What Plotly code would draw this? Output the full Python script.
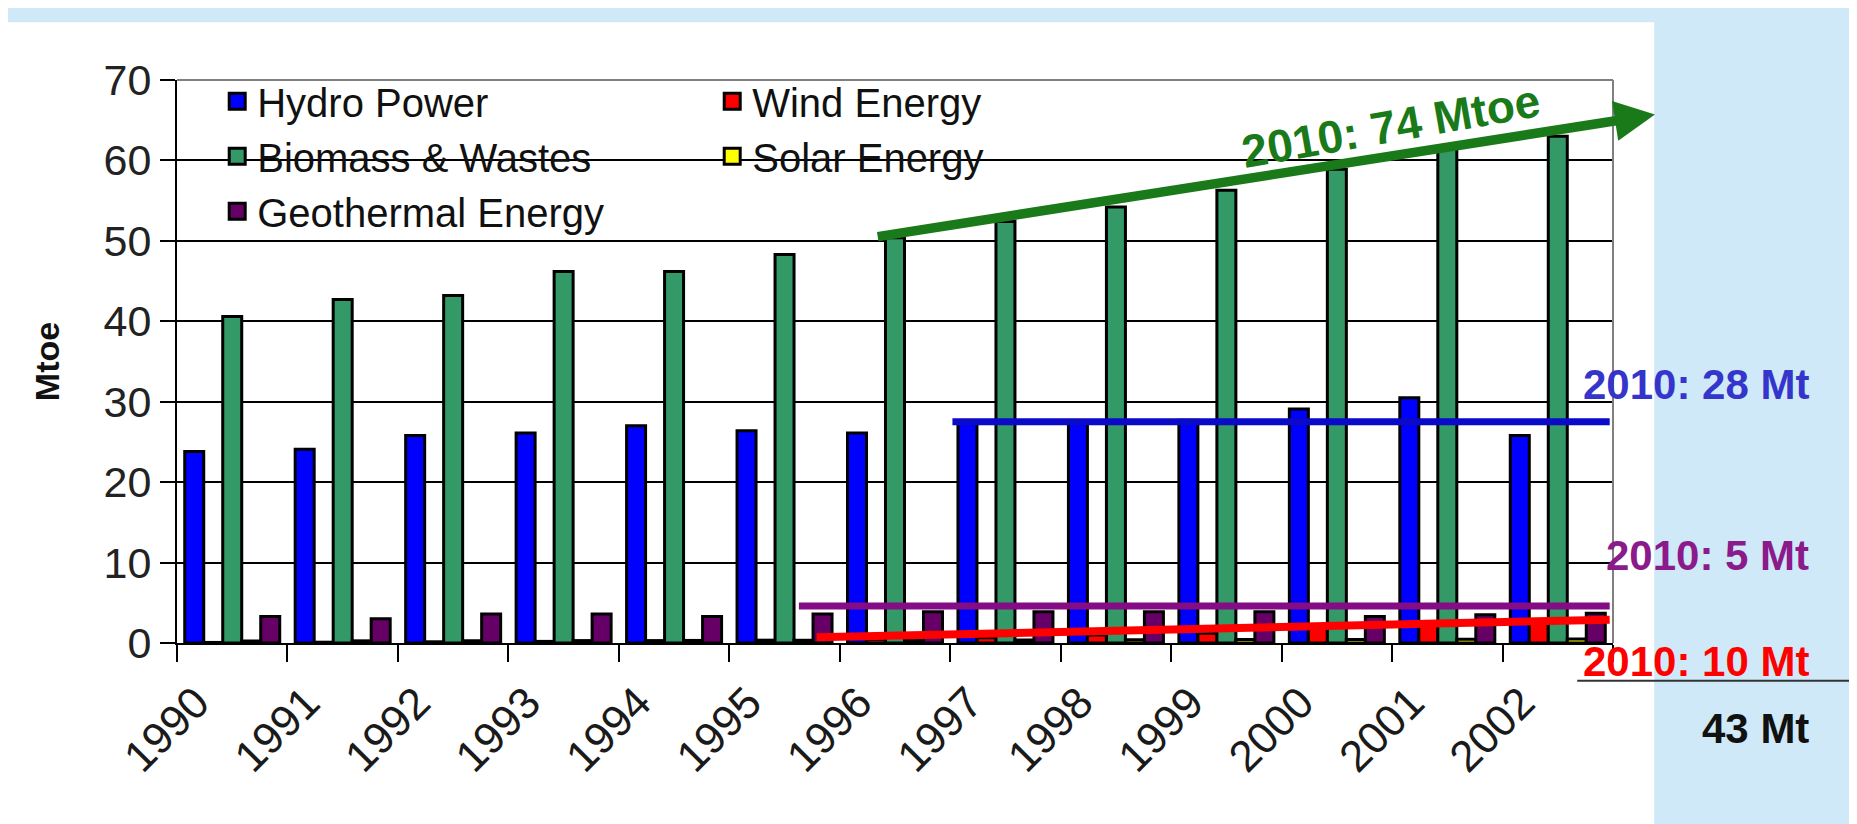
import plotly.graph_objects as go

years = ['1990', '1991', '1992', '1993', '1994', '1995', '1996',
         '1997', '1998', '1999', '2000', '2001', '2002']
hydro = [23.8, 24.1, 25.8, 26.1, 27.0, 26.4, 26.1, 27.6, 27.5, 27.7, 29.1, 30.5, 25.8]
wind = [0.07, 0.1, 0.15, 0.2, 0.3, 0.35, 0.45, 0.65, 1.0, 1.2, 1.9, 2.3, 2.9]
biomass = [40.6, 42.7, 43.2, 46.2, 46.2, 48.3, 50.4, 52.4, 54.2, 56.3, 58.9, 61.6, 63.0]
solar = [0.25, 0.27, 0.28, 0.3, 0.32, 0.34, 0.36, 0.38, 0.4, 0.42, 0.45, 0.48, 0.5]
geothermal = [3.3, 3.0, 3.6, 3.6, 3.3, 3.6, 3.9, 3.9, 3.9, 3.9, 3.3, 3.5, 3.7]

series = [
    ('Hydro Power', hydro, '#0000ff'),
    ('Wind Energy', wind, '#ff0000'),
    ('Biomass & Wastes', biomass, '#339966'),
    ('Solar Energy', solar, '#ffff00'),
    ('Geothermal Energy', geothermal, '#660066'),
]

# 2010 target levels drawn as lines (Mtoe)
hydro_target = 27.5
geo_target = 4.6
wind_start, wind_end = 0.7, 2.9
bio_start, bio_end = 50.5, 65.7

FONT = 'Arial, Liberation Sans, sans-serif'

W, H = 1857, 824
L, R, T, B = 169, 252, 72, 189
pw, ph = W - L - R, H - T - B
S = W / 1568.0  # helper scale for layout measurements


def px(p):
    return (p * S - L) / pw


def py(q):
    return (H - B - q * S) / ph


fig = go.Figure()
for name, vals, col in series:
    fig.add_trace(go.Bar(
        x=years, y=vals, name=name, showlegend=False,
        marker=dict(color=col, line=dict(color='#000000', width=3)),
    ))
# legend entries with square swatches
for name, vals, col in series:
    fig.add_trace(go.Scatter(
        x=[None], y=[None], mode='markers', name=name,
        marker=dict(symbol='square', size=20, color=col, line=dict(color='#000000', width=3)),
    ))

shapes = [
    # white panel
    dict(type='rect', xref='paper', yref='paper', x0=px(0) - 0.02, x1=px(1390),
         y0=py(700), y1=py(12), fillcolor='#ffffff', line=dict(width=0), layer='below'),
    # legend backdrop hiding gridlines
    dict(type='rect', xref='paper', yref='paper', x0=0.002, x1=px(990),
         y0=py(200), y1=0.998, fillcolor='#ffffff', line=dict(width=0), layer='between'),
    # top and right frame of plot area
    dict(type='line', xref='paper', yref='paper', x0=0, x1=1, y0=1, y1=1,
         line=dict(color='#808080', width=2)),
    dict(type='line', xref='paper', yref='paper', x0=1, x1=1, y0=0, y1=1,
         line=dict(color='#808080', width=2)),
    # target lines
    dict(type='line', xref='x', yref='y', x0=6.52, x1=12.47, y0=hydro_target, y1=hydro_target,
         line=dict(color='#0a0ac8', width=7)),
    dict(type='line', xref='x', yref='y', x0=5.13, x1=12.47, y0=geo_target, y1=geo_target,
         line=dict(color='#840c84', width=7)),
    dict(type='line', xref='x', yref='y', x0=5.29, x1=12.47, y0=wind_start, y1=wind_end,
         line=dict(color='#ff0000', width=8)),
    # underline for sum
    dict(type='line', xref='paper', yref='paper', x0=px(1325), x1=px(1557),
         y0=py(568), y1=py(568), line=dict(color='#333333', width=2)),
]

annotations = [
    dict(x=12.88, y=bio_end, ax=5.83, ay=bio_start, xref='x', yref='y',
         axref='x', ayref='y', text='', showarrow=True, arrowhead=2,
         arrowsize=0.85, arrowwidth=9.5, arrowcolor='#1a7a1a'),
    dict(x=px(1168), y=py(100), xref='paper', yref='paper', text='<b>2010: 74 Mtoe</b>',
         xanchor='center', yanchor='middle',
         showarrow=False, textangle=-10, font=dict(family=FONT, size=46, color='#1a7a1a')),
    dict(x=px(1522), y=py(318), xref='paper', yref='paper', text='<b>2010: 28 Mt</b>',
         xanchor='right', yanchor='middle', showarrow=False,
         font=dict(family=FONT, size=42, color='#3535cc')),
    dict(x=px(1522), y=py(462), xref='paper', yref='paper', text='<b>2010: 5 Mt</b>',
         xanchor='right', yanchor='middle', showarrow=False,
         font=dict(family=FONT, size=42, color='#8b1a8b')),
    dict(x=px(1522), y=py(552), xref='paper', yref='paper', text='<b>2010: 10 Mt</b>',
         xanchor='right', yanchor='middle', showarrow=False,
         font=dict(family=FONT, size=42, color='#ff0000')),
    dict(x=px(1522), y=py(608), xref='paper', yref='paper', text='<b>43 Mt</b>',
         xanchor='right', yanchor='middle', showarrow=False,
         font=dict(family=FONT, size=42, color='#111111')),
]

fig.update_layout(
    width=W, height=H,
    margin=dict(l=L, r=R, t=T, b=B, pad=0),
    paper_bgcolor='#cfe9f8',
    plot_bgcolor='#ffffff',
    barmode='group', bargap=0.14, bargroupgap=0,
    font=dict(family=FONT, color='#111111'),
    shapes=shapes,
    annotations=annotations,
    showlegend=True,
    legend=dict(
        orientation='h', x=0.028, y=1.02, xanchor='left', yanchor='top',
        bgcolor='rgba(255,255,255,0)', font=dict(family=FONT, size=40, color='#111111'),
        entrywidth=450, entrywidthmode='pixels', traceorder='normal',
        itemclick=False, itemdoubleclick=False,
    ),
    xaxis=dict(
        type='category', range=[-0.5, 12.5], showgrid=False,
        showline=True, linecolor='#000000', linewidth=2,
        ticks='outside', ticklen=17, tickcolor='#000000', tickwidth=2,
        tickson='boundaries', tickangle=-45,
        ticklabelshift=-36, ticklabelstandoff=14,
        tickfont=dict(family=FONT, size=44, color='#1a1a1a'),
        zeroline=False,
    ),
    yaxis=dict(
        range=[0, 70], dtick=10, tick0=0, showgrid=True, gridcolor='#000000', gridwidth=2,
        showline=True, linecolor='#000000', linewidth=2,
        ticks='outside', ticklen=15, tickcolor='#000000', tickwidth=2,
        tickfont=dict(family=FONT, size=43, color='#222222'),
        title=dict(text='<b>Mtoe</b>', font=dict(family=FONT, size=34, color='#111111'), standoff=34),
        zeroline=False,
    ),
)

fig.write_html('out.html')
